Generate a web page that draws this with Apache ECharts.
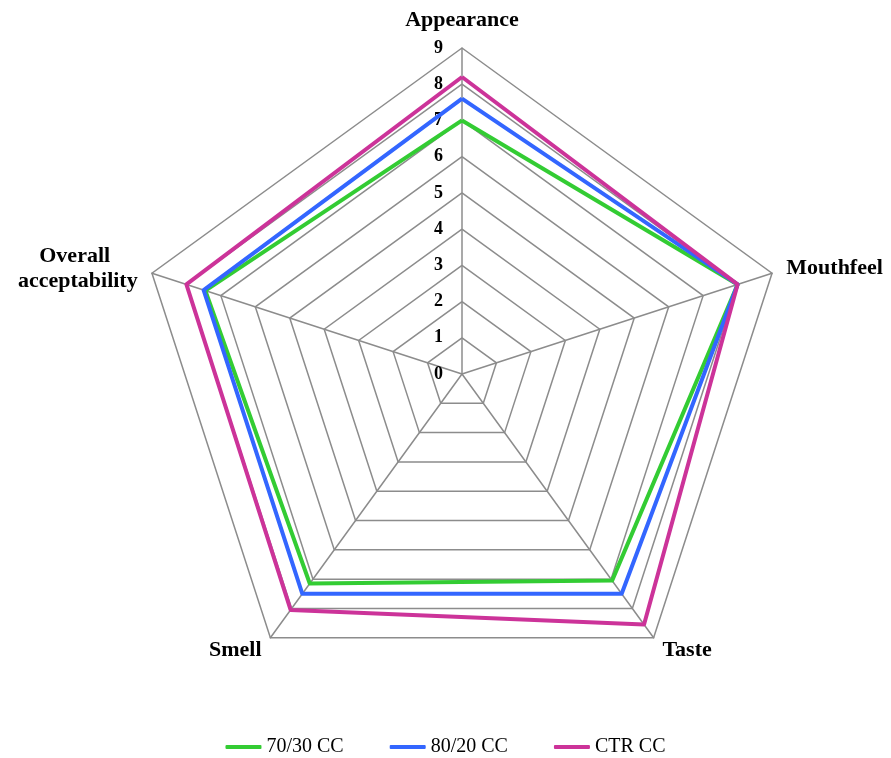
<!DOCTYPE html>
<html>
<head>
<meta charset="utf-8">
<script src="https://cdn.jsdelivr.net/npm/echarts@6/dist/echarts.min.js"></script>
<style>
  html, body { margin: 0; padding: 0; background: #fff; }
  #chart { width: 891px; height: 758px; }
</style>
</head>
<body>
<div id="chart"></div>
<script>
// Sensory attributes, listed in drawing order (top, then counter-clockwise)
const attributes = ['Appearance', 'Overall\nacceptability', 'Smell', 'Taste', 'Mouthfeel'];
const scoreMax = 9;

// Mean sensory scores per formulation
const cc7030 = [7.0, 7.45, 7.15, 7.05, 8.0];
const cc8020 = [7.6, 7.5, 7.5, 7.5, 8.0];
const ctrCC  = [8.2, 8.0, 8.05, 8.55, 8.0];

const seriesNames = ['70/30 CC', '80/20 CC', 'CTR CC'];
const seriesColors = ['#33CC33', '#3366FF', '#CC3399'];
const seriesValues = [cc7030, cc8020, ctrCC];

const serif = "'Liberation Serif', 'Times New Roman', serif";

const indicators = attributes.map((name, i) => {
  const ind = { name: name, min: 0, max: scoreMax };
  if (i === 0) {
    ind.axisLabel = {
      show: true,
      color: '#000',
      fontFamily: serif,
      fontWeight: 'bold',
      fontSize: 18,
      margin: 19
    };
  }
  return ind;
});

// Two-line names: first line centred in a wider box
function formatName(name) {
  const parts = name.split('\n');
  if (parts.length === 1) return name;
  return '{a|' + parts[0] + '}\n{b|' + parts[1] + '}';
}

const nameFont = { color: '#000', fontFamily: serif, fontWeight: 'bold', fontSize: 22, lineHeight: 25 };

const chart = echarts.init(document.getElementById('chart'));
chart.setOption({
  backgroundColor: '#fff',
  animation: false,
  legend: {
    top: 732,
    left: 'center',
    itemWidth: 36,
    itemHeight: 4,
    itemGap: 46,
    icon: 'roundRect',
    data: seriesNames,
    textStyle: { color: '#000', fontFamily: serif, fontSize: 20 }
  },
  radar: {
    center: [462, 374],
    radius: 326,
    startAngle: 90,
    splitNumber: scoreMax,
    shape: 'polygon',
    indicator: indicators,
    axisName: Object.assign({
      formatter: formatName,
      rich: {
        a: Object.assign({ width: 126, align: 'center' }, nameFont),
        b: Object.assign({}, nameFont)
      }
    }, nameFont),
    nameGap: 15,
    axisLine: { lineStyle: { color: '#8c8c8c', width: 1.5 } },
    splitLine: { lineStyle: { color: '#8c8c8c', width: 1.5 } },
    splitArea: { show: false },
    axisTick: { show: false }
  },
  series: [{
    type: 'radar',
    symbol: 'none',
    data: seriesValues.map((vals, i) => ({
      name: seriesNames[i],
      value: vals,
      lineStyle: { color: seriesColors[i], width: 4 },
      itemStyle: { color: seriesColors[i] }
    }))
  }]
});
</script>
</body>
</html>
